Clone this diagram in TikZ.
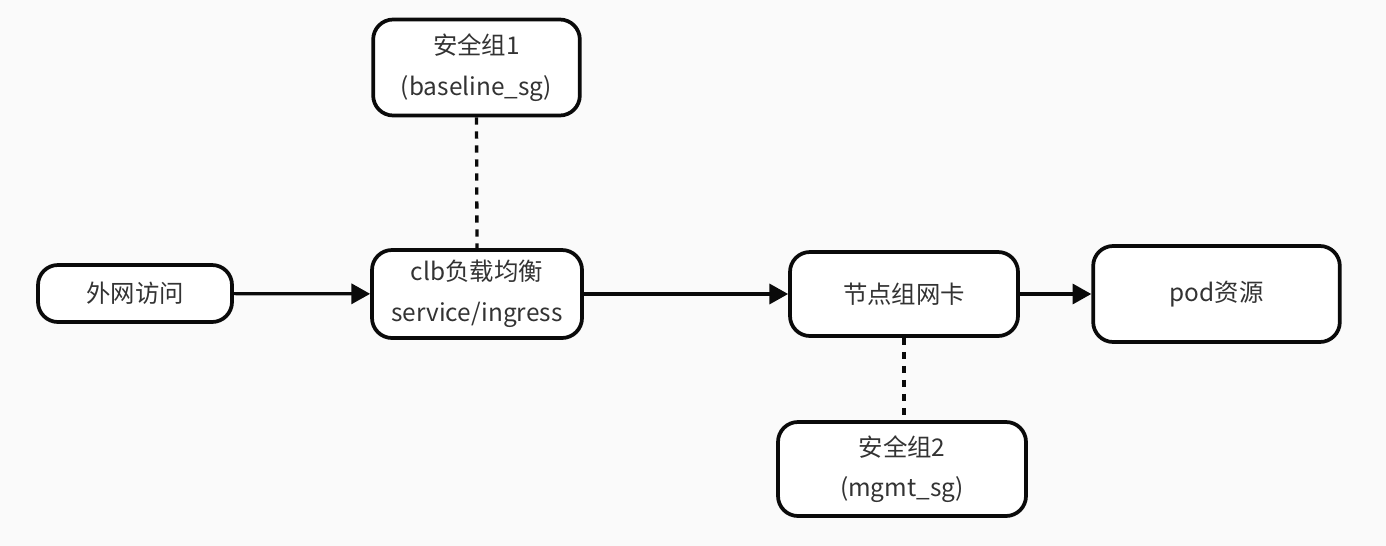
\documentclass[tikz,border=0pt]{standalone}
\usepackage{fontspec}
\setmainfont{Noto Sans CJK SC}
\usetikzlibrary{arrows.meta}
\definecolor{bg}{HTML}{FAFAFA}
\definecolor{ink}{HTML}{0A0A0A}
\definecolor{txt}{HTML}{333333}
\tikzset{
  box/.style={draw=ink, fill=white, line width=2.8pt, rounded corners=15pt,
    align=center, text=txt, inner sep=0pt,
    font=\fontsize{18.3pt}{30.5pt}\selectfont},
  flow/.style={draw=ink, line width=2.4pt, -{Triangle[length=14pt,width=15pt]}},
  dotted link/.style={draw=ink, line width=2.5pt, dash pattern=on 5.5pt off 5pt},
}
\begin{document}
\begin{tikzpicture}[x=0.75pt,y=-0.75pt]
\fill[bg] (0,0) rectangle (1386,546);
\useasboundingbox (0,0) rectangle (1386,546);
\node[box, minimum width=155pt, minimum height=72pt] (sg1) at (476.5,67.5) {安全组1\\(baseline\_sg)};
\node[box, minimum width=145.5pt, minimum height=42.75pt] (ext) at (135,293.5) {外网访问};
\node[box, minimum width=157.5pt, minimum height=66pt] (clb) at (477,294) {clb负载均衡\\service/ingress};
\node[box, minimum width=171pt, minimum height=63pt] (nic) at (904,294) {节点组网卡};
\node[box, minimum width=185pt, minimum height=72pt] (pod) at (1216.5,294) {pod资源};
\node[box, minimum width=186pt, minimum height=70.5pt] (sg2) at (902,469) {安全组2\\(mgmt\_sg)};
\draw[flow] (ext) -- (clb);
\draw[flow] (clb) -- (nic);
\draw[flow] (nic) -- (pod);
\draw[dotted link] (sg1.south) -- (clb.north);
\draw[dotted link] (nic.south) -- (nic.south |- sg2.north);
\end{tikzpicture}
\end{document}
